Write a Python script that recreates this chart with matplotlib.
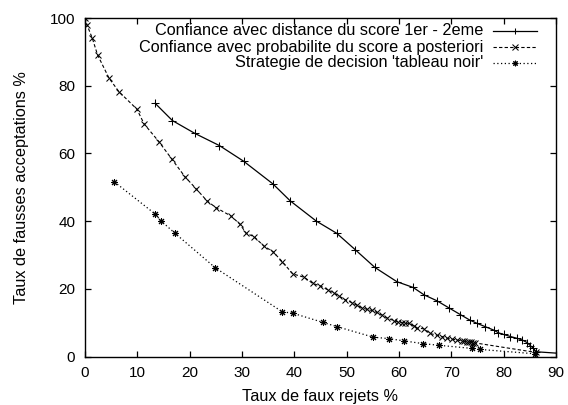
import matplotlib
matplotlib.use("Agg")
import matplotlib.pyplot as plt
from matplotlib.lines import Line2D

plt.rcParams['font.family'] = ['Liberation Sans', 'DejaVu Sans']

# Series 1: confidence with score distance 1st - 2nd
s1_x = [13.4, 16.7, 21.0, 25.7, 30.3, 35.9, 39.2, 44.2, 48.1, 51.6, 55.4, 59.6, 62.7, 64.8,
        67.2, 69.5, 71.7, 73.6, 74.9, 76.5, 78.1, 79.0, 80.0, 81.3, 82.5, 83.5, 84.5, 85.1,
        85.7, 86.2, 90.0]
s1_y = [74.8, 69.7, 65.9, 62.3, 57.7, 51.0, 46.0, 40.0, 36.4, 31.6, 26.3, 22.1, 20.4, 18.2,
        16.5, 14.4, 12.4, 10.7, 9.8, 8.8, 7.8, 7.0, 6.5, 5.9, 5.4, 4.9, 4.1, 3.2,
        2.4, 1.4, 1.0]

# Series 2: confidence with a posteriori probability
s2_x = [0.0, 0.4, 1.4, 2.4, 4.6, 6.5, 9.9, 11.3, 14.1, 16.6, 19.1, 21.2, 23.3, 25.0, 27.9,
        29.6, 30.8, 32.3, 34.2, 35.9, 37.7, 39.7, 41.9, 43.5, 44.9, 46.5, 47.5, 48.6, 49.7,
        51.0, 52.0, 52.9, 53.9, 54.8, 55.8, 56.7, 57.7, 59.0, 59.9, 60.6, 61.2, 62.0, 62.8,
        63.4, 64.7, 65.9, 67.2, 68.2, 69.2, 70.1, 71.1, 72.0, 72.5, 73.0, 73.4, 73.8, 74.2,
        74.6, 86.2]
s2_y = [100.0, 97.9, 94.0, 89.1, 82.2, 78.2, 73.1, 68.7, 63.5, 58.3, 53.1, 49.6, 46.0, 44.0, 41.5,
        39.1, 36.4, 35.4, 32.6, 31.0, 28.0, 24.4, 23.4, 21.6, 20.9, 19.6, 18.8, 17.8, 16.8,
        15.9, 15.1, 14.4, 13.9, 13.6, 13.0, 12.3, 11.4, 10.6, 10.1, 10.0, 9.8, 9.8, 9.0,
        8.4, 8.2, 6.8, 6.3, 5.9, 5.4, 5.1, 4.9, 4.6, 4.5, 4.4, 4.3, 4.2, 4.1,
        4.0, 1.2]

# Series 3: 'tableau noir' decision strategy
s3_x = [5.6, 13.4, 14.5, 17.2, 24.9, 37.7, 39.7, 45.4, 48.2, 55.1, 58.0, 61.0, 64.6, 67.7,
        73.9, 75.4, 86.0]
s3_y = [51.6, 42.1, 40.1, 36.4, 26.2, 13.2, 12.8, 10.1, 8.8, 5.7, 5.3, 4.6, 3.8, 3.3,
        2.4, 2.1, 0.8]

labels = ["Confiance avec distance du score 1er - 2eme",
          "Confiance avec probabilite du score a posteriori",
          "Strategie de decision 'tableau noir'"]
x_ticks = [0, 10, 20, 30, 40, 50, 60, 70, 80, 90]
y_ticks = [0, 20, 40, 60, 80, 100]

W, H = 568, 405
fig = plt.figure(figsize=(W / 100, H / 100), dpi=100)
ax = fig.add_axes([85 / W, 1 - 356.5 / H, (556 - 85) / W, (356.5 - 18) / H])

asterisk = (8, 2, 0)
styles = [
    dict(ls='-', marker='+', ms=6, mew=0.75, lw=0.9),
    dict(ls=(0, (3, 2)), marker='x', ms=5, mew=0.75, lw=0.8),
    dict(ls=(0, (1, 2)), marker=asterisk, ms=5, mew=0.75, lw=0.9),
]

ax.plot(s1_x, s1_y, color='black', markevery=list(range(len(s1_x) - 1)), **styles[0])
ax.plot(s2_x, s2_y, color='black', **styles[1])
ax.plot(s3_x, s3_y, color='black', **styles[2])

ax.set_xlim(0, 90)
ax.set_ylim(0, 100)
ax.set_xticks(x_ticks)
ax.set_yticks(y_ticks)
ax.tick_params(direction='in', length=4, width=0.9, top=True, right=True,
               labelsize=11, pad=7)
for sp in ax.spines.values():
    sp.set_linewidth(1.0)

ax.set_xlabel("Taux de faux rejets %", fontsize=11.7, labelpad=6)
ax.set_ylabel("Taux de fausses acceptations %", fontsize=11.7, labelpad=15)

# gnuplot-style key: right-aligned text followed by sample line
rows_y = [0.9616, 0.914, 0.8685]
for lab, st, yy in zip(labels, styles, rows_y):
    ax.text(0.845, yy, lab, transform=ax.transAxes, ha='right', va='center', fontsize=11.7)
    ax.add_line(Line2D([0.866, 0.960], [yy, yy], transform=ax.transAxes, color='black',
                       ls=st['ls'], lw=st['lw']))
    ax.add_line(Line2D([0.913], [yy], transform=ax.transAxes, color='black', ls='none',
                       marker=st['marker'], ms=st['ms'] - 1, mew=st['mew']))

fig.savefig("out.png", dpi=100)
